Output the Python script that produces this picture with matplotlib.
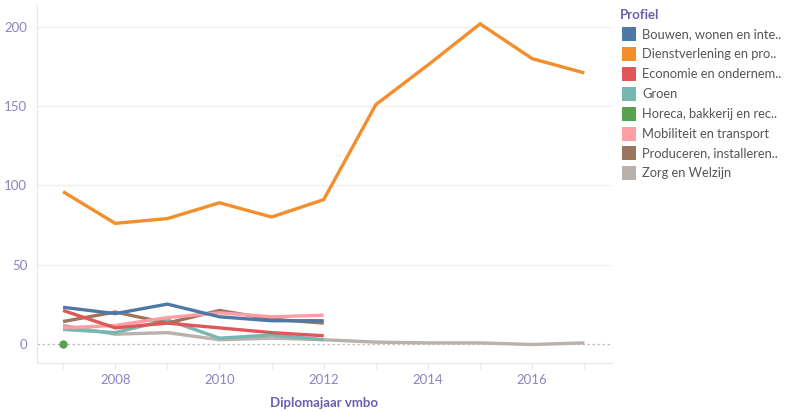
import numpy as np
import matplotlib
matplotlib.use("Agg")
import matplotlib.pyplot as plt
from matplotlib.patches import Rectangle

years = [2007, 2008, 2009, 2010, 2011, 2012, 2013, 2014, 2015, 2016, 2017]
nan = np.nan
bouwen = [23, 19, 25, 17, 14.5, 14.5, nan, nan, nan, nan, nan]
dienst = [96, 76, 79, 89, 80, 91, 151, 176, 202, 180, 171]
economie = [21, 10, 13, 10, 7, 5, nan, nan, nan, nan, nan]
groen = [9, 7, 15, 3.5, 5.5, 2.5, nan, nan, nan, nan, nan]
horeca = [0, nan, nan, nan, nan, nan, nan, nan, nan, nan, nan]
mobiliteit = [10, 11.5, 16.5, 19.5, 17, 18, nan, nan, nan, nan, nan]
produceren = [14, 20, 13, 21, 15.5, 13, nan, nan, nan, nan, nan]
zorg = [11.5, 6, 7, 2.5, 3.5, 2.5, 1, 0.5, 0.5, -0.5, 0.5]

series = [
    ("Bouwen, wonen en inte..", bouwen, "#4e79a7"),
    ("Dienstverlening en pro..", dienst, "#f28e2b"),
    ("Economie en ondernem..", economie, "#e15759"),
    ("Groen", groen, "#76b7b2"),
    ("Horeca, bakkerij en rec..", horeca, "#59a14f"),
    ("Mobiliteit en transport", mobiliteit, "#ff9da7"),
    ("Produceren, installeren..", produceren, "#9c755f"),
    ("Zorg en Welzijn", zorg, "#bab0ac"),
]
draw_order = [7, 3, 6, 5, 2, 0, 4, 1]

W, H = 797, 412
fig = plt.figure(figsize=(W / 100, H / 100), dpi=100)
L, R, T, B = 37, 612, 5, 362.7
ax = fig.add_axes([L / W, 1 - B / H, (R - L) / W, (B - T) / H])

tick_col = "#8a84c2"
title_col = "#6a5fae"
font = "Lato"

ax.set_xlim(2006.5, 2017.53)
ax.set_ylim(-12, 213.9)

for y in [50, 100, 150, 200]:
    ax.axhline(y, color="#efefef", lw=0.9, zorder=0)
ax.axhline(0, color="#bdbdbd", lw=0.9, ls=(0, (2, 2)), zorder=0.5)

for i in draw_order:
    name, vals, col = series[i]
    v = np.array(vals, dtype=float)
    if np.sum(~np.isnan(v)) == 1:
        ax.plot(years, v, marker="o", ms=5, color=col, lw=0, zorder=3)
    else:
        ax.plot(years, v, color=col, lw=2.4, solid_capstyle="butt",
                solid_joinstyle="miter", zorder=2)

for s in ["top", "right"]:
    ax.spines[s].set_visible(False)
ax.spines["left"].set_color("#e6e6e6")
ax.spines["bottom"].set_color("#e6e6e6")

ax.set_yticks([0, 50, 100, 150, 200])
ax.set_xticks([2008, 2010, 2012, 2014, 2016])
ax.set_xticks(years, minor=True)
ax.tick_params(axis="y", length=0, pad=7, labelsize=9.5, labelcolor=tick_col)
ax.tick_params(axis="x", which="major", length=4, color="#e6e6e6", pad=4,
               labelsize=9.5, labelcolor=tick_col)
ax.tick_params(axis="x", which="minor", length=4, color="#e6e6e6")
for lab in ax.get_xticklabels() + ax.get_yticklabels():
    lab.set_fontfamily(font)

ax.set_xlabel("Diplomajaar vmbo", fontsize=9.5, fontweight="bold",
              color=title_col, fontfamily=font, labelpad=8)

# legend
fig.text(620 / W, 1 - 15 / H, "Profiel", fontsize=9.5, fontweight="bold",
         color=title_col, fontfamily=font, va="center", ha="left")
y0 = 34
for k, (name, vals, col) in enumerate(series):
    yc = y0 + k * 19.9
    fig.add_artist(Rectangle(((622) / W, 1 - (yc + 7) / H), 14 / W, 14 / H,
                             transform=fig.transFigure, color=col, lw=0))
    fig.text(642 / W, 1 - yc / H, name, fontsize=9.3, color="#555555",
             fontfamily=font, va="center", ha="left")

fig.savefig("out.png", dpi=100)
